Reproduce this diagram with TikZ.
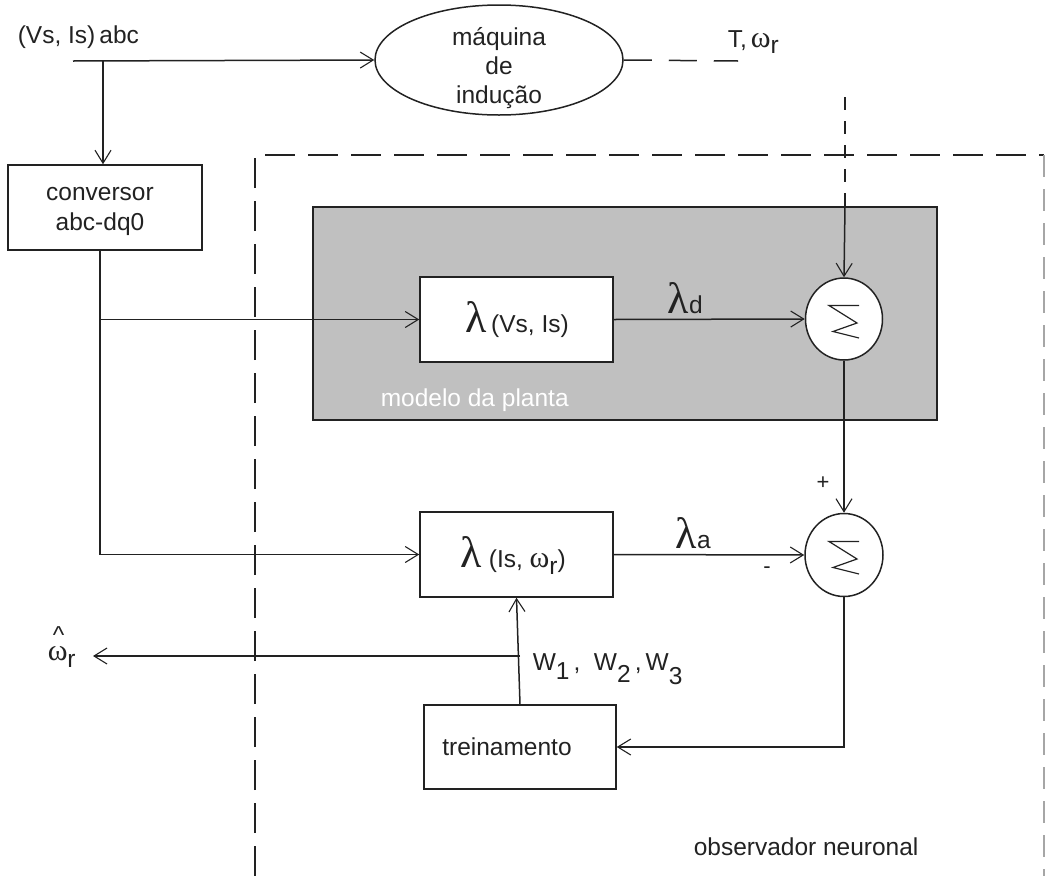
\documentclass[tikz,border=0pt]{standalone}
\usepackage{fontspec}
\setmainfont{Liberation Sans}
\newfontfamily\grk{Liberation Serif}
\usetikzlibrary{arrows.meta,shapes.geometric}
\definecolor{plantgray}{HTML}{C0C0C0}
\definecolor{ink}{HTML}{222222}
\newcommand\mylam{{\grk\fontsize{44}{44}\selectfont λ}}
\newcommand\myom{{\grk\fontsize{30}{30}\selectfont ω}}
\newcommand\mysub[2]{\raisebox{-#1pt}{#2}}
\begin{document}
\begin{tikzpicture}[x=1pt,y=-1pt,line width=1.5pt,draw=ink,
  tip/.style={-{Straight Barb[length=13pt,width=16pt,line width=1.1pt]}},
  blk/.style={draw,fill=white,inner sep=0pt},
  lbl/.style={inner sep=0pt,text=ink,font=\fontsize{24.5}{29}\selectfont},
  small/.style={inner sep=0pt,text=ink,font=\fontsize{22}{24}\selectfont},
  outerdash/.style={dash pattern=on 30pt off 13pt},
  sumnode/.style={draw,fill=white,ellipse,inner sep=0pt,minimum width=77pt,minimum height=82pt},
  zig/.style={line width=1.2pt}]
\useasboundingbox (0,0) rectangle (1045,876);

% outer dashed box
\draw[outerdash] (255,876) -- (255,155) -- (1044,155);
\draw[gray!70,dash pattern=on 22pt off 12pt] (1044,155) -- (1044,876);

% plant model box
\node[draw,fill=plantgray,inner sep=0pt,minimum width=624pt,minimum height=213pt] (plant) at (625,313.5) {};
\node[lbl,anchor=base west,text=white] (plantlbl) at (380,406) {modelo da planta};

% blocks
\node[draw,ellipse,inner sep=0pt,minimum width=248pt,minimum height=110pt] (maq) at (499,60) {};
\node[lbl,anchor=base] (maq1) at (499,45) {máquina};
\node[lbl,anchor=base] (maq2) at (499,74) {de};
\node[lbl,anchor=base] (maq3) at (499,103) {indução};

\node[blk,minimum width=194pt,minimum height=85pt] (conv) at (105,207.5) {};
\node[lbl,anchor=base] (conv1) at (100,200) {conversor};
\node[lbl,anchor=base] (conv2) at (100,230) {abc-dq0};

\node[blk,minimum width=193pt,minimum height=85pt] (lam1) at (516.5,319.5) {};
\node[lbl,anchor=base west] (lam1t) at (465,332) {\mylam\,(Vs, Is)};

\node[blk,minimum width=193pt,minimum height=85pt] (lam2) at (516.5,554.5) {};
\node[lbl,anchor=base west] (lam2t) at (460,567) {\mylam\ (Is, \myom\mysub{7}{r})};

\node[blk,minimum width=192pt,minimum height=84pt] (tr) at (520,747) {};
\node[lbl,anchor=base] (trt) at (507,755) {treinamento};

\node[sumnode] (s1) at (844,319) {};
\node[sumnode,minimum width=78pt,minimum height=83pt] (s2) at (844,555) {};
\foreach \s in {s1,s2}{
  \draw[zig] ([shift={(15,-13.5)}]\s.center) -- ([shift={(-15,-13.5)}]\s.center)
    -- ([shift={(13,4)}]\s.center) -- ([shift={(-11,12.5)}]\s.center)
    -- ([shift={(15,19)}]\s.center);
}

% coordinates
\coordinate (in) at (73,61);
\coordinate (b1) at (103,61);
\coordinate (c0) at (100,0);
\coordinate (tw) at (738,61);
\coordinate (vd) at (845,97);
\coordinate (wj) at (520,656);
\coordinate (wout) at (93,656);

% connectors
\draw[tip] (in) -- (maq.west);
\draw[tip] (b1) -- (b1 |- conv.north);
\draw (conv.south -| c0) -- (c0 |- lam2.west);
\draw[tip] (c0 |- lam1.west) -- (lam1.west);
\draw[tip] (c0 |- lam2.west) -- (lam2.west);
\draw[tip] (lam1.east) -- (s1.west);
\draw[tip] (lam2.east) -- (s2.west);
\draw[tip] (s1.south) -- (s2.north);
\draw[dash pattern=on 28pt off 17pt] (maq.east) -- (tw);
\draw[dash pattern=on 13pt off 11pt] (vd) -- (vd |- plant.north);
\draw[tip] (vd |- plant.north) -- (s1.north);
\draw[tip] (s2.south) |- (tr.east);
\draw[tip] (tr.north) -- (lam2.south);
\draw[tip] (wj) -- (wout);

% labels
\node[lbl,anchor=base west] (vin) at (17,43) {(Vs, Is)\,abc};
\node[lbl,anchor=base west] (tom) at (727,47) {T,\,\myom\mysub{6}{r}};
\node[lbl,anchor=base west] (ld) at (667,313) {{\grk\fontsize{44}{44}\selectfont λ}d};
\node[lbl,anchor=base west] (la) at (675,548) {{\grk\fontsize{44}{44}\selectfont λ}a};
\node[small] (plus) at (823,483) {+};
\node[small] (minus) at (767,570) {-};
\node[lbl,anchor=base west] (ws) at (532,670) {W\mysub{9}{1}\,,\ \ W\mysub{12}{2}\,,\,W\mysub{14}{3}};
\node[lbl,anchor=base west] (omh) at (47,660) {\myom\llap{\raisebox{17pt}{\textasciicircum}\hspace{3pt}}\mysub{7}{r}};
\node[lbl,anchor=base west] (obs) at (693,855) {observador neuronal};
\end{tikzpicture}
\end{document}
